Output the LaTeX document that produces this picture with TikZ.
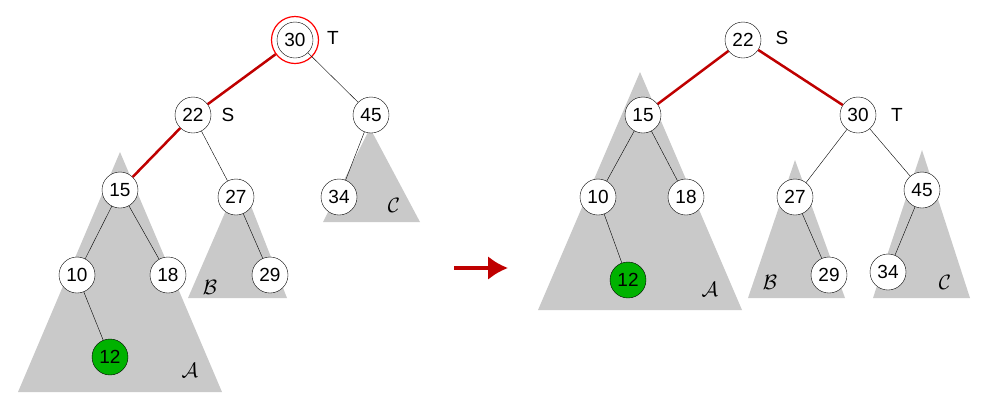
\documentclass[tikz,border=0pt]{standalone}
\usepackage{fontspec}
\setmainfont{Liberation Sans}
\usetikzlibrary{arrows.meta}
\begin{document}
\begin{tikzpicture}[x=1pt,y=-1pt,
 nd/.style={circle,draw,fill=white,minimum size=36pt,inner sep=0pt,font=\fontsize{19}{19}\selectfont},
 gn/.style={nd,fill=green!70!black},
 tri/.style={fill=black!21},
 ed/.style={draw,thin},
 red/.style={draw,red!75!black,line width=2.5pt},
 lb/.style={font=\fontsize{19}{19}\selectfont},
 cl/.style={font=\fontsize{22}{22}\selectfont}]
\useasboundingbox (0,0) rectangle (983,408);
% left triangles
\fill[tri] (120,152) -- (222,392) -- (18,392) -- cycle;
\fill[tri] (240,178) -- (287,298) -- (188,298) -- cycle;
\fill[tri] (370,128) -- (420,222) -- (323,222) -- cycle;
\node[cl] (la) at (190,370) {$\mathcal{A}$};
\node[cl] (lb) at (210,287) {$\mathcal{B}$};
\node[cl] (lc) at (394,205) {$\mathcal{C}$};
% right triangles
\fill[tri] (640,72) -- (742,310) -- (538,310) -- cycle;
\fill[tri] (795,160) -- (845,298) -- (748,298) -- cycle;
\fill[tri] (922,150) -- (970,298) -- (873,298) -- cycle;
\node[cl] (ra) at (710,289) {$\mathcal{A}$};
\node[cl] (rb) at (770,282) {$\mathcal{B}$};
\node[cl] (rc) at (945,282) {$\mathcal{C}$};
% left nodes
\node[nd] (a30) at (295,40) {30};
\node[nd] (a22) at (193,115) {22};
\node[nd] (a45) at (371,115) {45};
\node[nd] (a15) at (120,190) {15};
\node[nd] (a27) at (236,197) {27};
\node[nd] (a34) at (339,197) {34};
\node[nd] (a10) at (77,275) {10};
\node[nd] (a18) at (168,275) {18};
\node[nd] (a29) at (270,275) {29};
\node[gn] (a12) at (110,357) {12};
\node[circle,draw=red,line width=1.2pt,minimum size=47pt] (ring) at (a30) {};
\node[lb] (aT) at (333,38) {T};
\node[lb] (aS) at (228,115) {S};
\path[red] (ring) -- (a22);
\path[red] (a22) -- (a15);
\path[ed] (a30) -- (a45);
\path[ed] (a22) -- (a27);
\path[ed] (a45) -- (a34);
\path[ed] (a15) -- (a10);
\path[ed] (a15) -- (a18);
\path[ed] (a27) -- (a29);
\path[ed] (a10) -- (a12);
% arrow
\coordinate (p1) at (454,268);
\coordinate (p2) at (508,268);
\draw[red,line width=3.5pt,-{Latex[length=20pt,width=24pt]}] (p1) -- (p2);
% right nodes
\node[nd] (b22) at (743,40) {22};
\node[nd] (b15) at (643,115) {15};
\node[nd] (b30) at (858,115) {30};
\node[nd] (b10) at (598,197) {10};
\node[nd] (b18) at (686,197) {18};
\node[nd] (b27) at (795,197) {27};
\node[nd] (b45) at (922,190) {45};
\node[gn] (b12) at (628,280) {12};
\node[nd] (b29) at (829,275) {29};
\node[nd] (b34) at (888,272) {34};
\node[lb] (bS) at (782,38) {S};
\node[lb] (bT) at (897,115) {T};
\path[red] (b22) -- (b15);
\path[red] (b22) -- (b30);
\path[ed] (b15) -- (b10);
\path[ed] (b15) -- (b18);
\path[ed] (b10) -- (b12);
\path[ed] (b30) -- (b27);
\path[ed] (b30) -- (b45);
\path[ed] (b27) -- (b29);
\path[ed] (b45) -- (b34);
\end{tikzpicture}
\end{document}
